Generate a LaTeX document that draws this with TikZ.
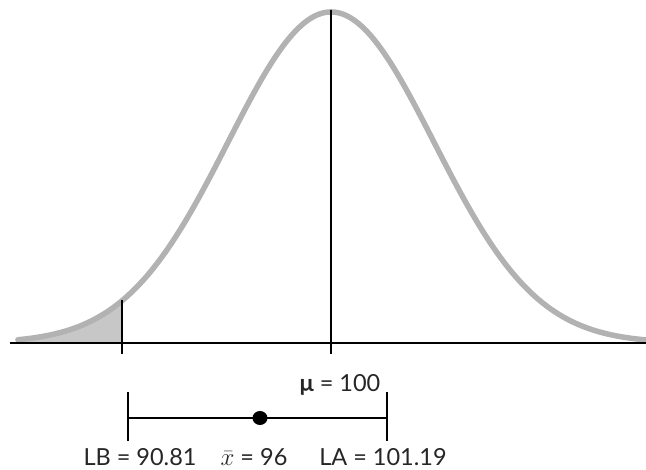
\documentclass[tikz,border=0pt]{standalone}
\usepackage{fontspec}
\setmainfont{Lato}
\begin{document}
\begin{tikzpicture}[x=1pt,y=-1pt,
  curvestyle/.style={draw=black!30,line width=5.5pt},
  axisstyle/.style={draw=black,line width=2.8pt},
  vline/.style={draw=black,line width=1.8pt},
  ilabel/.style={font=\fontsize{23.5}{28}\selectfont,inner sep=0pt,text=black!85}]
\useasboundingbox (0,0) rectangle (646,470);
% shaded tail
\fill[black!22] (18,343) -- plot[domain=-3.04:-2.029,samples=40,variable=\t] ({331+103*\t},{343-331*exp(-\t*\t/2)}) -- (122,343) -- cycle;
% curve
\draw[curvestyle,line cap=round] plot[domain=-3.04:3.06,samples=200,smooth,variable=\t] ({331+103*\t},{343-331*exp(-\t*\t/2)});
% axis
\draw[axisstyle] (10,343) -- (646,343);
% vertical lines
\draw[vline] (122,300) -- (122,354);
\draw[vline] (331,10) -- (331,354);
% interval
\coordinate (lb) at (128,418);
\coordinate (la) at (387,418);
\draw[vline,line width=2.4pt] (lb) -- (la);
\draw[vline,line width=2.4pt] (128,392) -- (128,441);
\draw[vline,line width=2.4pt] (387,392) -- (387,441);
\fill[black] (260,418) ellipse (7.5pt and 7pt);
% labels
\node[ilabel] (mu) at (340,385) {\textbf{μ} = 100};
\node[ilabel] (lbt) at (140,457) {LB = 90.81};
\node[ilabel] (xb) at (254,457) {$\bar{x}$ = 96};
\node[ilabel] (lat) at (383,457) {LA = 101.19};
\end{tikzpicture}
\end{document}
